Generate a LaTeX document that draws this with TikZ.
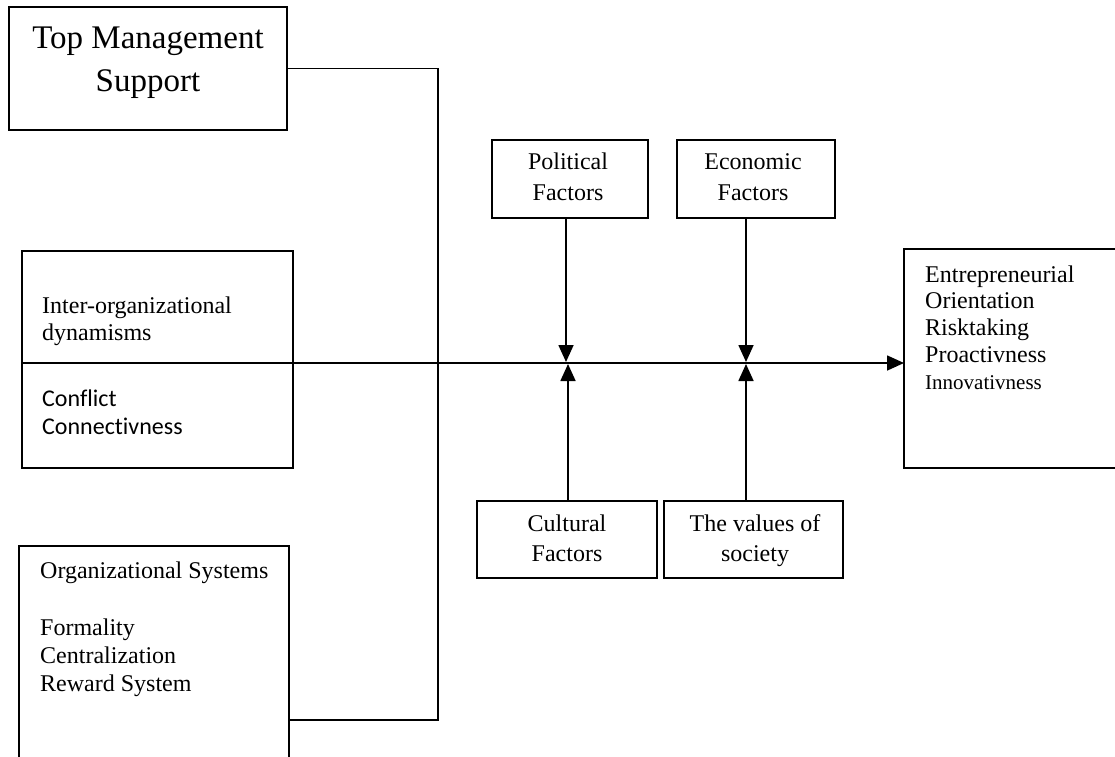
\documentclass[tikz,border=0pt]{standalone}
\usepackage{fontspec}
\setmainfont{Liberation Serif}
\newfontfamily\carlitofont[Ligatures=NoCommon]{Carlito}
\usetikzlibrary{arrows.meta}
\tikzset{
  box/.style={draw, line width=1.7pt, anchor=north west, inner sep=0pt, outer sep=0pt},
  conn/.style={line width=1.7pt},
  arr/.style={line width=1.7pt, -{Triangle[length=17pt,width=15pt]}},
  txt/.style={inner sep=0pt, anchor=base, font=\fontsize{24}{28}\selectfont},
  txtl/.style={inner sep=0pt, anchor=base west, font=\fontsize{24}{28}\selectfont},
  big/.style={inner sep=0pt, anchor=base, font=\fontsize{33}{43}\selectfont},
}
\begin{document}
\begin{tikzpicture}[x=1pt,y=-1pt]
\useasboundingbox (0,0) rectangle (1115,756);
\clip (0,0) rectangle (1115,756);
% boxes
\node[box, minimum width=278pt, minimum height=123pt] (tms) at (9,7) {};
\node[box, minimum width=271pt, minimum height=217pt] (io) at (22,251) {};
\node[box, minimum width=270pt, minimum height=230pt] (org) at (19,546) {};
\node[box, minimum width=156pt, minimum height=78pt] (pol) at (492,140) {};
\node[box, minimum width=158pt, minimum height=78pt] (eco) at (677,140) {};
\node[box, minimum width=180pt, minimum height=77pt] (cul) at (477,501) {};
\node[box, minimum width=179pt, minimum height=77pt] (val) at (664,501) {};
\node[box, minimum width=230pt, minimum height=219pt] (ent) at (904,249) {};
% texts
\node[big] (tms1) at (148,48) {Top Management};
\node[big] (tms2) at (148,91) {Support};
\node[txtl] (io1) at (42,313) {Inter-organizational};
\node[txtl] (io2) at (42,340) {dynamisms};
\node[txtl, font=\carlitofont\fontsize{24}{28}\selectfont] (io3) at (42,406) {Conflict};
\node[txtl, font=\carlitofont\fontsize{24}{28}\selectfont] (io4) at (42,434) {Connectivness};
\node[txtl] (org1) at (40,578) {Organizational Systems};
\node[txtl] (org2) at (40,635) {Formality};
\node[txtl] (org3) at (40,663) {Centralization};
\node[txtl] (org4) at (40,691) {Reward System};
\node[txt] (pol1) at (568,169) {Political};
\node[txt] (pol2) at (568,200) {Factors};
\node[txt] (eco1) at (753,169) {Economic};
\node[txt] (eco2) at (753,200) {Factors};
\node[txt] (cul1) at (567,531) {Cultural};
\node[txt] (cul2) at (567,561) {Factors};
\node[txt] (val1) at (755,531) {The values of};
\node[txt] (val2) at (755,561) {society};
\node[txtl] (ent1) at (925,282) {Entrepreneurial};
\node[txtl] (ent2) at (925,308) {Orientation};
\node[txtl] (ent3) at (925,335) {Risktaking};
\node[txtl] (ent4) at (925,362) {Proactivness};
\node[txtl, font=\fontsize{21}{25}\selectfont] (ent5) at (925,389) {Innovativness};
% connectors
\coordinate (d) at (0,363);
\coordinate (j) at (438,720);
\coordinate (m1) at (566,362);
\coordinate (m2) at (568,364);
\coordinate (m3) at (746,362);
\coordinate (m4) at (746,364);
\draw[conn] (io.west |- d) -- (io.east |- d);
\draw[arr] (io.east |- d) -- (ent.west |- d);
\draw[conn] (tms.east) -| (j) -- (j -| org.east);
\draw[arr] (pol.south -| m1) -- (m1);
\draw[arr] (eco.south -| m3) -- (m3);
\draw[arr] (cul.north -| m2) -- (m2);
\draw[arr] (val.north -| m4) -- (m4);
\end{tikzpicture}
\end{document}
